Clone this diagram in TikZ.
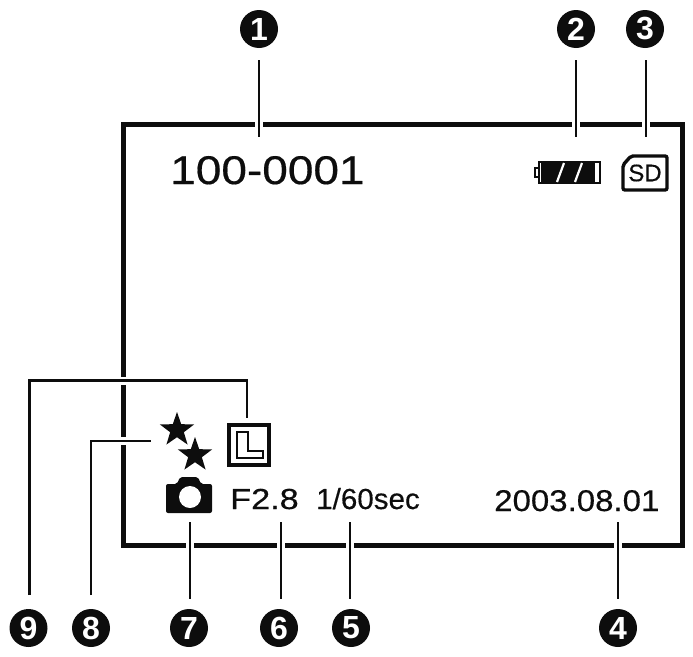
\documentclass[tikz,border=0pt]{standalone}
\usepackage{fontspec}
\setmainfont{Liberation Sans}
\newfontfamily\heavyfont[FakeBold=0.4]{Liberation Sans}
\usetikzlibrary{shapes.geometric}
\definecolor{InkClr}{rgb}{0.05,0.05,0.05}
\tikzset{
  bullet/.style={circle,fill=InkClr,text=white,minimum size=38pt,inner sep=0pt,font=\fontsize{32}{32}\selectfont\bfseries},
  leader/.style={line width=2.6pt,draw=InkClr,preaction={draw=white,line width=8pt}},
  readout/.style={anchor=base west,inner sep=0pt,text=InkClr},
  starmark/.style={star,star points=5,star point ratio=2.5,fill=InkClr,minimum size=36pt,inner sep=0pt}
}
\begin{document}
\begin{tikzpicture}[x=1pt,y=-1pt]
\useasboundingbox (0,0) rectangle (693,656);

% screen frame
\draw[line width=5pt,draw=InkClr,line join=miter] (123,124) rectangle (682,545.5);

% readouts
\node[readout,font=\heavyfont\fontsize{40}{40}\selectfont,xscale=1.15] (Number) at (170,184) {100-0001};
\node[readout,font=\heavyfont\fontsize{29}{29}\selectfont,xscale=1.18] (Aperture) at (230,509) {F2.8};
\node[readout,font=\heavyfont\fontsize{29}{29}\selectfont,xscale=1.02] (Shutter) at (316,509) {1/60sec};
\node[readout,font=\heavyfont\fontsize{30}{30}\selectfont,xscale=1.1] (Date) at (494,511) {2003.08.01};

% battery
\draw[line width=2pt,draw=InkClr] (540,168) -- (535,168) -- (535,177) -- (540,177);
\draw[line width=2pt,draw=InkClr] (539,162) rectangle (599.5,182.5);
\fill[InkClr] (541,163) rectangle (595,181.5);
\draw[line width=2.2pt,white] (557,182) -- (564,163) (575,182) -- (582,163);

% card
\draw[line width=3.4pt,draw=InkClr,rounded corners=2pt] (631,156) -- (667,156) -- (667,190) -- (623,190) -- (623,165) -- cycle;
\node[font=\heavyfont\fontsize{24}{24}\selectfont,text=InkClr,inner sep=0pt] (CardText) at (645,173) {SD};

% size box
\node[draw=InkClr,line width=4pt,minimum size=40pt,inner sep=0pt] (Size) at (249,444.5) {};
\draw[line width=1.5pt,draw=InkClr,line join=miter] (237,432) -- (248,432) -- (248,451) -- (263,451) -- (263,458) -- (237,458) -- cycle;

% stars
\node[starmark] (StarA) at (177,430) {};
\node[starmark] (StarB) at (195,455) {};

% camera
\fill[InkClr,rounded corners=2pt] (166,484) -- (177,484) -- (180,477) -- (198,477) -- (201,484) -- (212,484) -- (212,513) -- (166,513) -- cycle;
\node[circle,fill=white,minimum size=22pt,inner sep=0pt] (Lens) at (190,497) {};

% numbers
\node[bullet] (n1) at (259,29) {1};
\node[bullet] (n2) at (576,29) {2};
\node[bullet] (n3) at (645,29) {3};
\node[bullet] (n4) at (618,628) {4};
\node[bullet] (n5) at (351,628) {5};
\node[bullet] (n6) at (279,628) {6};
\node[bullet] (n7) at (189,628) {7};
\node[bullet] (n8) at (91,628) {8};
\node[bullet] (n9) at (28.5,628) {9};

% leaders
\coordinate (t1) at (259,60);
\coordinate (e1) at (259,137);
\coordinate (t2) at (576,60);
\coordinate (e2) at (576,137);
\coordinate (t3) at (646,60);
\coordinate (e3) at (646,137);
\coordinate (t4) at (618,599);
\coordinate (e4) at (618,522);
\coordinate (t5) at (350,599);
\coordinate (e5) at (350,522);
\coordinate (t6) at (281,599);
\coordinate (e6) at (281,522);
\coordinate (t7) at (190,599);
\coordinate (e7) at (190,522);
\coordinate (t8) at (91,595);
\coordinate (e8) at (151,441);
\coordinate (t9) at (29.5,595);
\coordinate (e9) at (247,418);
\draw[leader] (t1) -- (e1);
\draw[leader] (t2) -- (e2);
\draw[leader] (t3) -- (e3);
\draw[leader] (e4) -- (t4);
\draw[leader] (e5) -- (t5);
\draw[leader] (e6) -- (t6);
\draw[leader] (e7) -- (t7);
\draw[leader] (t8) |- (e8);
\draw[leader] (t9) -- (29.5,380.5) -- (247,380.5) -- (e9);
\end{tikzpicture}
\end{document}
